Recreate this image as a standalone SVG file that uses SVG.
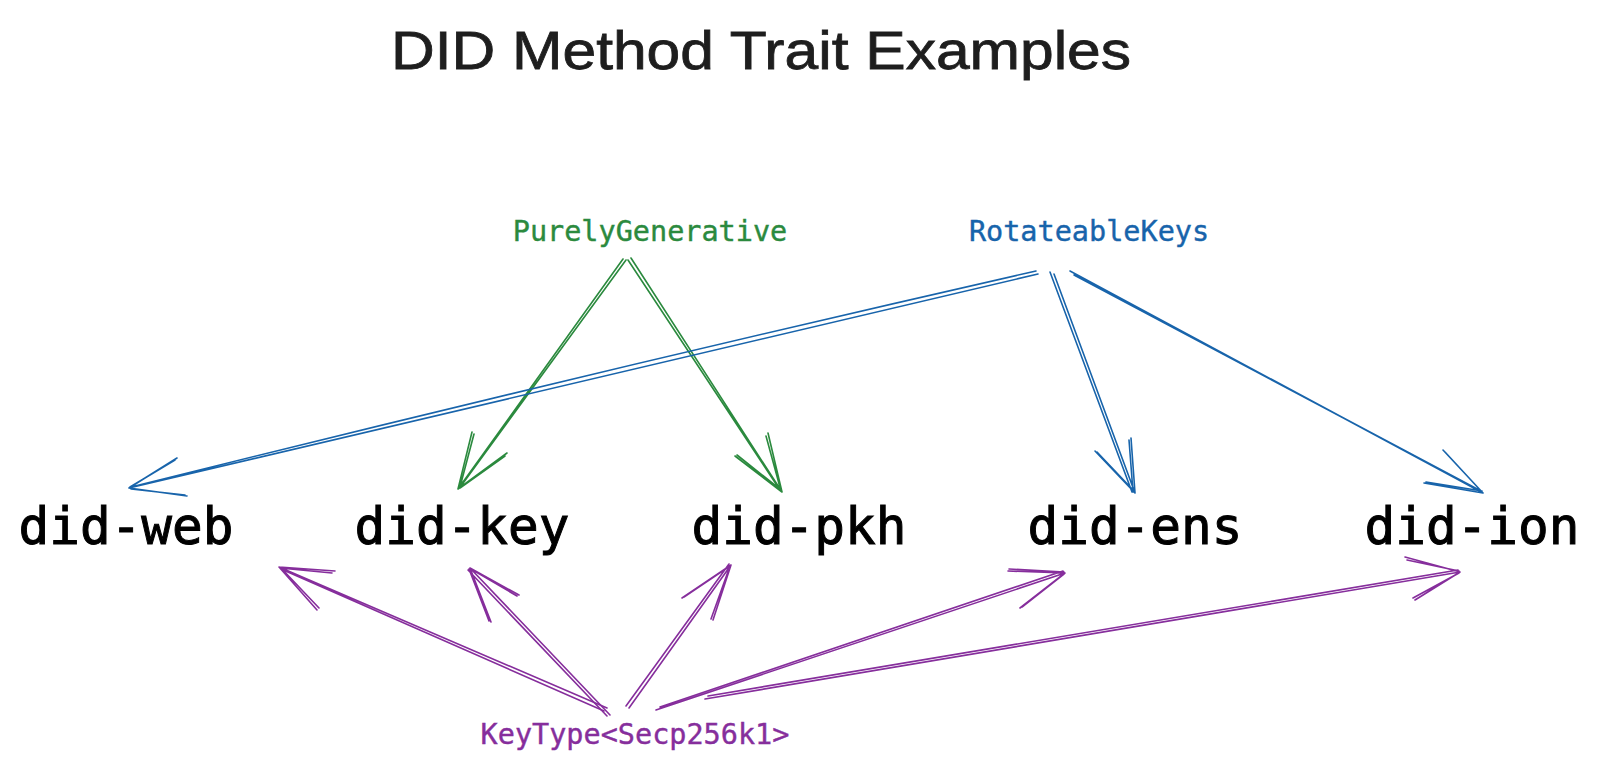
<svg xmlns="http://www.w3.org/2000/svg" width="1600" height="772" viewBox="0 0 1600 772">
<style>
  .title { font-family: "Liberation Sans", "DejaVu Sans", sans-serif; font-size: 54px; fill: #1e1e1e; stroke: #1e1e1e; stroke-width: 0.8; }
  .node { font-family: "DejaVu Sans Mono", "Liberation Mono", monospace; font-size: 51px; fill: #000000; stroke: #000000; stroke-width: 1; text-anchor: middle; }
  .lbl { font-family: "DejaVu Sans Mono", "Liberation Mono", monospace; font-size: 28.5px; text-anchor: middle; stroke-width: 0.4; }
  .g { stroke: #2b8a3e; }
  .b { stroke: #1864ab; }
  .p { stroke: #862e9c; }
  .conn path { fill: none; stroke-width: 1.6; stroke-linecap: round; stroke-linejoin: round; }
</style>
<rect width="1600" height="772" fill="#ffffff"/>
<text class="title" x="391" y="69" textLength="740" lengthAdjust="spacingAndGlyphs">DID Method Trait Examples</text>

<g id="purely-generative"><text class="lbl" x="650" y="241" fill="#2b8a3e" stroke="#2b8a3e">PurelyGenerative</text></g>
<g id="rotateable-keys"><text class="lbl" x="1089" y="241" fill="#1864ab" stroke="#1864ab">RotateableKeys</text></g>
<g id="keytype"><text class="lbl" x="635" y="744" fill="#862e9c" stroke="#862e9c">KeyType&lt;Secp256k1&gt;</text></g>

<g id="did-web"><text class="node" x="126" y="544">did-web</text></g>
<g id="did-key"><text class="node" x="462" y="544">did-key</text></g>
<g id="did-pkh"><text class="node" x="799" y="544">did-pkh</text></g>
<g id="did-ens"><text class="node" x="1135" y="544">did-ens</text></g>
<g id="did-ion"><text class="node" x="1472" y="544">did-ion</text></g>

<g id="connectors" class="conn">
  <!-- PurelyGenerative -> did-key -->
  <path class="g" d="M623 259 L458 489 M626 260 L461 486 M472 432 L458 489 M474 434 L460 487 M507 453 L458 489 M505 456 L460 488"/>
  <!-- PurelyGenerative -> did-pkh -->
  <path class="g" d="M631 258 L782 492 M628 260 L780 490 M768 433 L782 492 M766 436 L781 491 M735 456 L782 492 M737 455 L781 490"/>
  <!-- RotateableKeys -> did-web -->
  <path class="b" d="M1038 274 L129 488 M1036 271 Q600 370 131 487 M177 458 L129 488 M175 460 L130 487 M187 496 L129 488 M185 495 L131 489"/>
  <!-- RotateableKeys -> did-ens -->
  <path class="b" d="M1054 274 L1135 493 M1050 272 L1132 492 M1131 438 L1135 493 M1129 440 L1133 492 M1095 451 L1135 493 M1097 452 L1134 491"/>
  <!-- RotateableKeys -> did-ion -->
  <path class="b" d="M1070 271 L1483 493 M1074 275 L1481 491 M1443 450 L1483 493 M1445 452 L1482 492 M1424 483 L1483 493 M1426 482 L1482 491"/>
  <!-- KeyType -> did-web -->
  <path class="p" d="M607 708 L279 567 M604 711 L281 569 M335 571 L279 567 M332 573 L280 568 M317 610 L279 567 M319 608 L281 568"/>
  <!-- KeyType -> did-key -->
  <path class="p" d="M610 715 L470 568 M607 716 L468 570 M519 595 L470 568 M517 596 L471 569 M491 622 L470 568 M489 621 L469 569"/>
  <!-- KeyType -> did-pkh -->
  <path class="p" d="M629 708 L731 565 M626 706 L729 564 M682 598 L731 565 M684 597 L730 566 M713 620 L731 565 M711 619 L730 566"/>
  <!-- KeyType -> did-ens -->
  <path class="p" d="M656 710 L1065 573 M660 707 L1063 571 M1008 571 L1065 573 M1009 569 L1064 572 M1020 608 L1065 573 M1022 607 L1064 574"/>
  <!-- KeyType -> did-ion -->
  <path class="p" d="M705 699 L1460 572 M708 696 L1458 570 M1405 557 L1460 572 M1407 560 L1459 571 M1415 600 L1460 572 M1413 598 L1459 573"/>
</g>
</svg>
